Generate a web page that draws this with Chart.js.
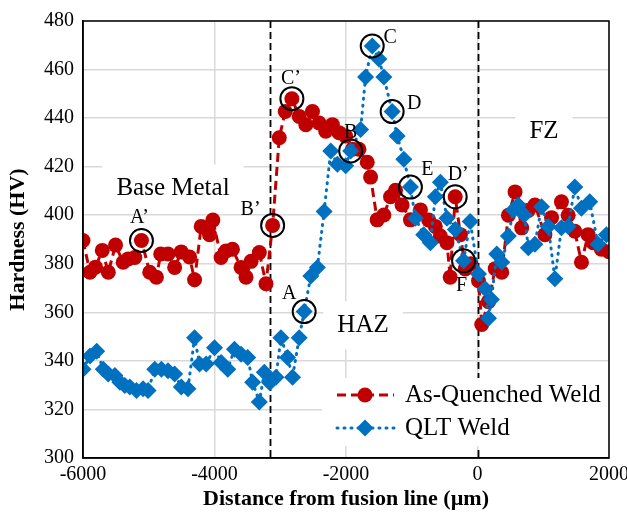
<!DOCTYPE html>
<html>
<head>
<meta charset="utf-8">
<script src="https://cdn.jsdelivr.net/npm/chart.js@4/dist/chart.umd.min.js"></script>
<style>
html, body { margin: 0; padding: 0; background: #fff; }
#wrap { width: 627px; height: 517px; }
</style>
</head>
<body>
<div id="wrap"><canvas id="chart" width="627" height="517"></canvas></div>
<script>
// As-Quenched weld hardness traverse
const aqX = [-6000, -5894, -5810, -5707, -5615, -5505, -5389, -5313, -5212, -5111, -4985, -4884, -4818, -4707, -4606, -4506, -4379, -4303, -4202, -4126, -4076, -4025, -3900, -3824, -3727, -3596, -3521, -3444, -3318, -3217, -3116, -3015, -2924, -2823, -2712, -2611, -2510, -2409, -2308, -2207, -2106, -2005, -1903, -1803, -1677, -1626, -1526, -1424, -1323, -1247, -1147, -1020, -868, -742, -642, -565, -465, -415, -339, -260, -186, -100, 15, 65, 167, 270, 369, 470, 571, 672, 773, 873, 1025, 1126, 1277, 1379, 1480, 1581, 1682, 1758, 1884, 2000];
const aqY = [389.6, 376.5, 378.6, 385.5, 376.5, 387.7, 380.6, 382, 382.6, 389.6, 376.5, 374.5, 384, 384, 378.5, 384.9, 382.8, 373.4, 395.4, 394.7, 392, 398, 382.6, 385.3, 386, 378.5, 374.5, 381, 384.6, 371.8, 395.8, 431.9, 442.7, 448, 440.7, 437.3, 442.7, 438, 434.6, 437.3, 434, 432.6, 427.2, 427.2, 421.8, 415.7, 398.1, 400.1, 407.6, 410.3, 404.2, 398.1, 402.2, 398, 395.4, 391.4, 388.7, 374.5, 407.6, 392, 377.9, 380, 373, 355, 364.4, 378, 376.5, 400, 409.6, 394.8, 402, 404.2, 392, 399, 405.5, 400, 393.4, 380.6, 392, 388.7, 386, 385];

// QLT weld hardness traverse
const qltX = [-6000, -5894, -5792, -5692, -5616, -5515, -5439, -5364, -5288, -5186, -5086, -5010, -4909, -4808, -4707, -4606, -4505, -4404, -4303, -4227, -4126, -4000, -3899, -3798, -3697, -3596, -3495, -3420, -3318, -3242, -3160, -3065, -2990, -2889, -2813, -2712, -2636, -2535, -2435, -2333, -2232, -2131, -2005, -1929, -1778, -1702, -1601, -1500, -1424, -1298, -1222, -1121, -1020, -945, -818, -717, -642, -565, -465, -338, -212, -111, 15, 117, 167, 212, 293, 369, 470, 545, 621, 712, 773, 873, 974, 1076, 1177, 1277, 1379, 1480, 1581, 1707, 1833, 1960];
const qltY = [336.6, 342, 344, 336.6, 334.6, 334, 331.2, 329.9, 329.2, 327.8, 328.5, 327.8, 336.6, 336.6, 335.9, 334.6, 329.2, 328.5, 349.5, 338.7, 338.7, 345.4, 339.3, 336.6, 344.8, 342.7, 341.4, 331.2, 323.1, 335.3, 331, 333.3, 349.5, 341.4, 333.3, 349.5, 360.3, 375, 378.5, 401.5, 426.5, 421, 420.4, 426.5, 435.3, 456.9, 469.7, 464.3, 456.9, 442.7, 432.6, 423.1, 411.6, 398.8, 392, 388.7, 407.6, 413.6, 398.8, 394.1, 381.2, 397.4, 375.8, 369.7, 357.6, 365.3, 384, 380.6, 391.4, 402.2, 404.2, 400.1, 386.6, 388, 403.5, 395.4, 373.8, 394.8, 395.4, 411.6, 402.9, 405.5, 388, 392];

const xTicks = [-6000, -4000, -2000, 0, 2000];
const yTicks = [300, 320, 340, 360, 380, 400, 420, 440, 460, 480];
const zoneLines = [-3150, 0];

// circled points and their letters
const markNames = ['A’', 'B’', 'C’', 'A', 'B', 'C', 'D', 'E', 'D’', 'F'];
const markX = [-5111, -3116, -2823, -2636, -1929, -1601, -1298, -1020, -339, -212];
const markY = [389.6, 395.8, 448, 360.3, 426.5, 469.7, 442.7, 411.6, 407.6, 381.2];

const zoneNames = ['Base Metal', 'HAZ', 'FZ'];
const zoneX = [-4631, -1741, 1011];
const zoneY = [411, 354.7, 434.6];

const seriesNames = ['As-Quenched Weld', 'QLT Weld'];

// ---- styling ----
const SERIF = '"Liberation Serif", "Times New Roman", serif';
const RED = '#C00000';
const BLUE = '#0070C0';
const GRID = '#d9d9d9';
const markOffsets = [[-2, -23], [-22, -16], [-1, -20], [-15, -18], [0, -18], [18, -8], [22, -8], [17, -17], [3, -22], [-2, 25]];

function pts(xs, ys) {
    return xs.map((x, i) => ({ x: x, y: ys[i] }));
}

function dot(ctx, x, y, style, r, color) {
    ctx.fillStyle = color;
    ctx.beginPath();
    if (style === 'diamond') {
        ctx.moveTo(x, y - r);
        ctx.lineTo(x + r, y);
        ctx.lineTo(x, y + r);
        ctx.lineTo(x - r, y);
        ctx.closePath();
    } else {
        ctx.arc(x, y, r, 0, Math.PI * 2);
    }
    ctx.fill();
}

const overlay = {
    id: 'overlay',
    beforeDatasetsDraw(chart) {
        const { ctx, chartArea: a, scales: { x, y } } = chart;
        ctx.save();

        // zone boundaries
        ctx.strokeStyle = '#000';
        ctx.lineWidth = 1.8;
        ctx.setLineDash([7, 4]);
        zoneLines.forEach(v => {
            const px = Math.round(x.getPixelForValue(v)) + 0.5;
            ctx.beginPath();
            ctx.moveTo(px, a.top);
            ctx.lineTo(px, a.bottom);
            ctx.stroke();
        });
        ctx.setLineDash([]);

        // zone names on white boxes
        ctx.font = '25px ' + SERIF;
        ctx.textAlign = 'center';
        ctx.textBaseline = 'middle';
        zoneNames.forEach((t, i) => {
            const px = x.getPixelForValue(zoneX[i]);
            const py = y.getPixelForValue(zoneY[i]);
            const w = ctx.measureText(t).width;
            ctx.fillStyle = '#fff';
            ctx.fillRect(px - w / 2 - 14, py - 24, w + 28, 48);
            ctx.fillStyle = '#000';
            ctx.fillText(t, px, py);
        });
        ctx.restore();
    },
    afterDatasetsDraw(chart) {
        const { ctx, chartArea: a, scales: { x, y } } = chart;
        ctx.save();

        // circled points
        ctx.strokeStyle = '#000';
        ctx.lineWidth = 2;
        ctx.font = '20px ' + SERIF;
        ctx.textAlign = 'center';
        ctx.textBaseline = 'middle';
        markNames.forEach((t, i) => {
            const px = x.getPixelForValue(markX[i]);
            const py = y.getPixelForValue(markY[i]);
            ctx.beginPath();
            ctx.arc(px, py, 11.5, 0, Math.PI * 2);
            ctx.stroke();
            ctx.fillStyle = '#000';
            ctx.fillText(t, px + markOffsets[i][0], py + markOffsets[i][1]);
        });

        // legend
        ctx.fillStyle = '#fff';
        ctx.fillRect(322, 378, 286, 68);
        const rows = [
            { y: 395, color: RED, dash: [9, 5], cap: 'butt', style: 'circle', r: 7.5 },
            { y: 428, color: BLUE, dash: [1, 6], cap: 'round', style: 'diamond', r: 8.5 }
        ];
        rows.forEach((row, i) => {
            ctx.strokeStyle = row.color;
            ctx.lineWidth = 3;
            ctx.lineCap = row.cap;
            ctx.setLineDash(row.dash);
            ctx.beginPath();
            ctx.moveTo(337, row.y);
            ctx.lineTo(394, row.y);
            ctx.stroke();
            ctx.setLineDash([]);
            dot(ctx, 365, row.y, row.style, row.r, row.color);
            ctx.fillStyle = '#000';
            ctx.font = '25px ' + SERIF;
            ctx.textAlign = 'left';
            ctx.fillText(seriesNames[i], 405, row.y);
        });

        // plot frame
        ctx.strokeStyle = '#000';
        ctx.lineWidth = 1.5;
        ctx.lineCap = 'butt';
        ctx.strokeRect(a.left, a.top, a.right - a.left, a.bottom - a.top);
        ctx.restore();
    }
};

new Chart(document.getElementById('chart'), {
    type: 'scatter',
    data: {
        datasets: [
            {
                label: seriesNames[0],
                data: pts(aqX, aqY),
                showLine: true,
                borderColor: RED,
                backgroundColor: RED,
                borderWidth: 3,
                borderDash: [9, 5],
                pointStyle: 'circle',
                pointRadius: 7.5,
                pointBorderWidth: 0,
                order: 2
            },
            {
                label: seriesNames[1],
                data: pts(qltX, qltY),
                showLine: true,
                borderColor: BLUE,
                backgroundColor: BLUE,
                borderWidth: 3,
                borderDash: [1, 6],
                borderCapStyle: 'round',
                pointStyle: 'rectRot',
                pointRadius: 8.5,
                pointBorderWidth: 0,
                order: 1
            }
        ]
    },
    options: {
        responsive: false,
        animation: false,
        devicePixelRatio: 1,
        layout: { padding: { left: 0, right: 18, top: 13, bottom: 0 } },
        plugins: { legend: { display: false }, tooltip: { enabled: false } },
        scales: {
            x: {
                type: 'linear',
                min: -6000,
                max: 2000,
                afterBuildTicks: s => { s.ticks = xTicks.map(v => ({ value: v })); },
                afterFit: s => { s.height = 59; s.paddingLeft = 0; s.paddingRight = 0; },
                ticks: {
                    color: '#000',
                    font: { family: SERIF, size: 20 },
                    padding: 5,
                    maxRotation: 0,
                    callback: v => String(v)
                },
                grid: { color: GRID, lineWidth: 1.5, drawTicks: false },
                border: { color: '#000', width: 1.5 },
                title: {
                    display: true,
                    text: 'Distance from fusion line (µm)',
                    color: '#000',
                    font: { family: SERIF, size: 22, weight: 'bold' },
                    padding: { top: 0, bottom: 4 }
                }
            },
            y: {
                min: 300,
                max: 480,
                afterBuildTicks: s => { s.ticks = yTicks.map(v => ({ value: v })); },
                afterFit: s => { s.width = 83; },
                ticks: { color: '#000', font: { family: SERIF, size: 20 }, padding: 9, callback: v => String(v) },
                grid: { color: GRID, lineWidth: 1.5, drawTicks: false },
                border: { color: '#000', width: 1.5 },
                title: {
                    display: true,
                    text: 'Hardness (HV)',
                    color: '#000',
                    font: { family: SERIF, size: 22, weight: 'bold' },
                    padding: { top: 5, bottom: 0 }
                }
            }
        }
    },
    plugins: [overlay]
});
</script>
</body>
</html>
